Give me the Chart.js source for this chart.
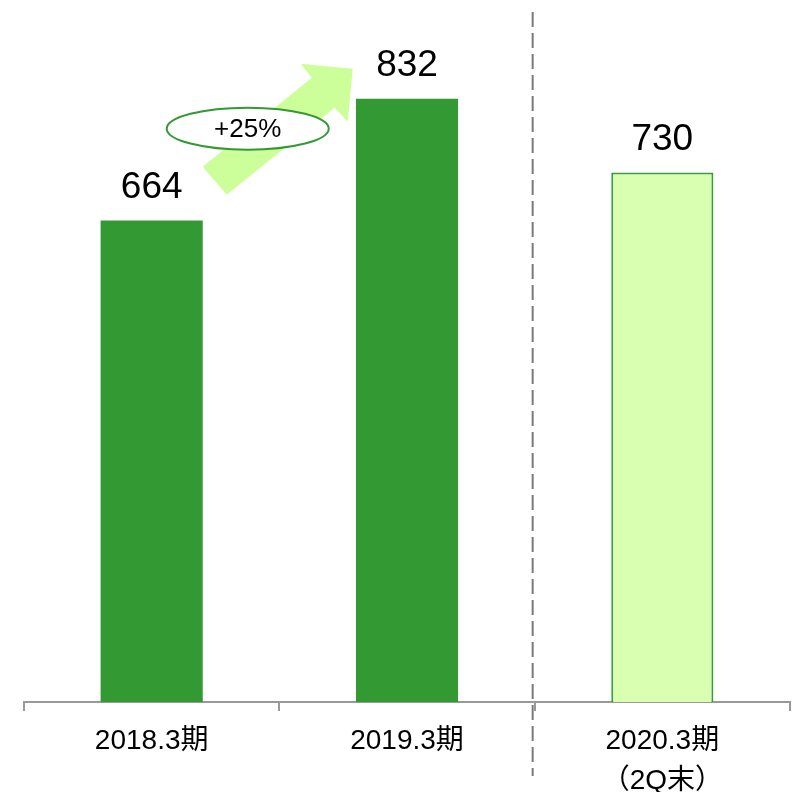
<!DOCTYPE html>
<html><head><meta charset="utf-8">
<script src="https://cdn.jsdelivr.net/npm/chart.js@4/dist/chart.umd.min.js"></script>
<style>html,body{margin:0;padding:0;background:#fff}#wrap{width:796px;height:792px}</style>
</head><body><div id="wrap"><canvas id="c" width="796" height="792"></canvas></div>
<script>
const categories = [['2018.3期'], ['2019.3期'], ['2020.3期', '（2Q末）']];
const values = [664, 832, 730];
const valueLabels = ['664', '832', '730'];
const growthLabel = '+25%';

const DARK = '#339933';
const LIGHT = '#d9ffb0';
const FONT = '"Liberation Sans", Arial, "Noto Sans CJK JP", sans-serif';

const annotations = {
  id: 'annotations',
  afterDatasetsDraw(chart) {
    const ctx = chart.ctx;
    const meta = chart.getDatasetMeta(0);
    const b = meta.data;
    ctx.save();
    // dashed separator between 2nd and 3rd category
    const sepX = (b[1].x + b[2].x) / 2 - 2;
    ctx.strokeStyle = '#7a7a7a';
    ctx.lineWidth = 2;
    ctx.setLineDash([15, 6]);
    ctx.beginPath();
    ctx.moveTo(sepX, 12);
    ctx.lineTo(sepX, 776);
    ctx.stroke();
    ctx.setLineDash([]);

    // arrow from bar1 to bar2 (relative to bars)
    const ox = b[0].x + b[0].width / 2; // right edge of bar1
    const oy = b[1].y;                  // top of bar2
    const pts = [[24, 96], [0, 68], [109, -21], [98, -35], [150, -30], [145, 23], [132, 9]];
    ctx.fillStyle = '#ccff99';
    ctx.beginPath();
    pts.forEach((p, i) => { const X = ox + p[0], Y = oy + p[1]; i ? ctx.lineTo(X, Y) : ctx.moveTo(X, Y); });
    ctx.closePath();
    ctx.fill();

    // ellipse with growth label
    const ex = ox + 45, ey = oy + 30;
    ctx.beginPath();
    ctx.ellipse(ex, ey, 81, 21, 0, 0, Math.PI * 2);
    ctx.fillStyle = '#ffffff';
    ctx.fill();
    ctx.strokeStyle = DARK;
    ctx.lineWidth = 2;
    ctx.stroke();
    ctx.fillStyle = '#000';
    ctx.font = '26px ' + FONT;
    ctx.textAlign = 'center';
    ctx.textBaseline = 'middle';
    ctx.fillText(growthLabel, ex, ey + 1);

    // value labels
    ctx.font = '37px ' + FONT;
    b.forEach((bar, i) => {
      ctx.fillText(valueLabels[i], bar.x, bar.y - 33);
    });
    ctx.restore();
  }
};

new Chart(document.getElementById('c'), {
  type: 'bar',
  data: {
    labels: categories,
    datasets: [{
      data: values,
      backgroundColor: [DARK, DARK, LIGHT],
      borderColor: [DARK, DARK, '#36a036'],
      borderWidth: [0, 0, 2],
      barPercentage: 0.4,
      categoryPercentage: 1.0
    }]
  },
  options: {
    responsive: false,
    animation: false,
    layout: { padding: { top: 0, left: 24, right: 6, bottom: 0 } },
    plugins: { legend: { display: false }, tooltip: { enabled: false } },
    scales: {
      y: { display: false, min: 0, max: 968 },
      x: {
        afterFit(scale) { scale.height = 90; },
        grid: { drawOnChartArea: false, drawTicks: true, tickLength: 9, color: '#999999', lineWidth: 2, offset: true },
        border: { color: '#999999', width: 2 },
        ticks: { color: '#000', padding: 10, font: { family: FONT, size: 28, lineHeight: '40px' }, maxRotation: 0, autoSkip: false }
      }
    }
  },
  plugins: [annotations]
});
</script>
</body></html>
